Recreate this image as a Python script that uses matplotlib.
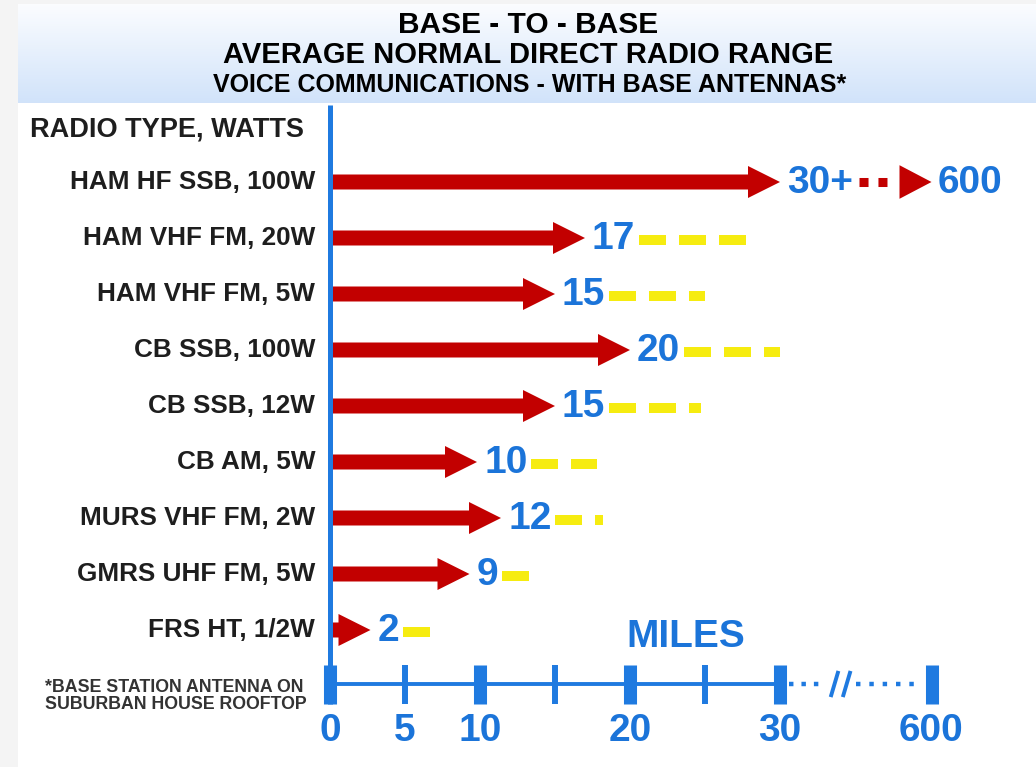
import numpy as np
import matplotlib
matplotlib.use("Agg")
import matplotlib.pyplot as plt
from matplotlib.patches import Rectangle

# Data
radio_types = ["HAM HF SSB, 100W", "HAM VHF FM, 20W", "HAM VHF FM, 5W",
               "CB SSB, 100W", "CB SSB, 12W", "CB AM, 5W",
               "MURS VHF FM, 2W", "GMRS UHF FM, 5W", "FRS HT, 1/2W"]
range_labels = ["30+", "17", "15", "20", "15", "10", "12", "9", "2"]
arrow_ends = [30, 17, 15, 20, 15, 9.8, 11.4, 9.3, 2.7]      # where the red arrows stop (miles)
max_ranges = [None, 28, 25, 30, 24.7, 17.8, 18.2, 13.7, 7]  # end of the yellow dashes (miles)
hf_max = 600

tick_values = [0, 5, 10, 15, 20, 25, 30, 600]
major_ticks = [0, 10, 20, 30, 600]
labelled_ticks = [0, 5, 10, 20, 30, 600]

RED = "#c20000"
BLUE = "#1b74d9"
AXBLUE = "#1f7ae0"
YELLOW = "#f6ec10"
DARK = "#1e1e1e"

W, H = 1036, 767
X0 = 330       # pixel of 0 miles
MPX = 15       # pixels per mile
R0 = 182       # pixel of first row centre
RPX = 56       # pixels per row
BREAK_POS = 40.1  # axis position used for 600 miles


def pos(v):
    return v if v <= 30 else BREAK_POS


plt.rcParams["font.family"] = ["Liberation Sans", "DejaVu Sans"]

fig = plt.figure(figsize=(W / 100, H / 100), dpi=100, facecolor="#f4f4f4")
fig.patches.append(Rectangle((18 / W, 0), 1 - 18 / W, 1 - 4 / H,
                             transform=fig.transFigure, facecolor="white",
                             edgecolor="none", zorder=-5))

# title band with gradient
gax = fig.add_axes([18 / W, 1 - 103 / H, 1 - 18 / W, 99 / H], zorder=1)
grad = np.linspace(0, 1, 100).reshape(-1, 1)
top = np.array([0.985, 0.99, 1.0])
bot = np.array([0.82, 0.89, 0.98])
img = top + grad[..., None] * (bot - top)
gax.imshow(img, aspect="auto", extent=(0, 1, 0, 1), origin="upper")
gax.axis("off")

fig.text(528 / W, 1 - 25 / H, "BASE - TO - BASE", weight="bold",
         fontsize=21.5, ha="center", va="center", color="black")
fig.text(528 / W, 1 - 55 / H, "AVERAGE NORMAL DIRECT RADIO RANGE",
         weight="bold", fontsize=21, ha="center", va="center", color="black")
fig.text(530 / W, 1 - 85 / H, "VOICE COMMUNICATIONS - WITH BASE ANTENNAS*",
         weight="bold", fontsize=18, ha="center", va="center", color="black")

ax = fig.add_axes([0, 0, 1, 1], zorder=2)
ax.patch.set_visible(False)
ax.set_xlim(-X0 / MPX, (W - X0) / MPX)
ax.set_ylim((H - R0) / RPX, -R0 / RPX)
ax.axis("off")

ax.text(-20, -0.93, "RADIO TYPE, WATTS", fontsize=19.5, weight="bold", color=DARK,
        ha="left", va="center")

shaft = 15 / RPX
head_w = 32 / RPX
head_l = 32 / MPX
gap = 7 / MPX

value_texts = []
for i, (name, lab, end) in enumerate(zip(radio_types, range_labels, arrow_ends)):
    ax.text(-1.0, i, name, fontsize=18.8, weight="bold", color=DARK, ha="right", va="center")
    ax.arrow(0.2, i, end - 0.2, 0, width=shaft, head_width=head_w,
             head_length=min(head_l, end - 0.4), length_includes_head=True,
             color=RED, lw=0, zorder=3)
    t = ax.text(end + gap, i + 0.02, lab, fontsize=28, weight="bold", color=BLUE,
                ha="left", va="center", zorder=4)
    value_texts.append(t)

fig.canvas.draw()
renderer = fig.canvas.get_renderer()
inv = ax.transData.inverted()


def right_edge(t):
    bb = t.get_window_extent(renderer)
    return inv.transform((bb.x1, bb.y0))[0]


# yellow dashes: range under good conditions
for i, (t, mx) in enumerate(zip(value_texts, max_ranges)):
    if mx is None:
        continue
    x_start = right_edge(t) + 4 / MPX
    ax.plot([x_start, mx], [i + 0.04, i + 0.04], color=YELLOW, lw=7.2,
            dashes=(2.7, 1.3), solid_capstyle="butt", dash_capstyle="butt", zorder=3)

# HF row: dotted red link to 600
x_start = right_edge(value_texts[0]) + 6 / MPX
ax.plot([x_start, BREAK_POS - head_l - 0.6], [0.0, 0.0], color=RED, lw=6.5,
        dashes=(1, 1.1), dash_capstyle="butt", zorder=3)
ax.arrow(BREAK_POS - head_l, 0, head_l, 0, width=0.001, head_width=head_w * 1.05,
         head_length=head_l, length_includes_head=True, color=RED, lw=0, zorder=3)
ax.text(pos(hf_max) + 6 / MPX, 0.02, str(hf_max), fontsize=28, weight="bold",
        color=BLUE, ha="left", va="center", zorder=4)

# miles axis
y_ax = (684 - R0) / RPX
tick_top = (665 - R0) / RPX
tick_bot = (704 - R0) / RPX
ax.plot([0, 0], [(105 - R0) / RPX, tick_bot], color=AXBLUE, lw=3.6,
        solid_capstyle="butt", zorder=2)
ax.plot([0, 30], [y_ax, y_ax], color=AXBLUE, lw=2.8, zorder=2)
for v in tick_values:
    lw = 9.4 if v in major_ticks else 4.3
    ax.plot([pos(v), pos(v)], [tick_top, tick_bot], color=AXBLUE, lw=lw,
            solid_capstyle="butt", zorder=2)
    if v in labelled_ticks:
        ax.text(pos(v), (731 - R0) / RPX, str(v), fontsize=28, weight="bold",
                color=BLUE, ha="center", va="center")

# broken section between 30 and 600
seg = BREAK_POS - 30
ax.plot([30 + 0.06 * seg, 30 + 0.3 * seg], [y_ax, y_ax], color=AXBLUE, lw=3.2,
        dashes=(1, 1.8), dash_capstyle="butt")
ax.plot([30 + 0.5 * seg, 30 + 0.92 * seg], [y_ax, y_ax], color=AXBLUE, lw=3.2,
        dashes=(1, 2.0), dash_capstyle="butt")
for f in (0.36, 0.44):
    xs = 30 + f * seg
    ax.plot([xs - 0.22, xs + 0.22], [y_ax + 0.2, y_ax - 0.2], color=AXBLUE, lw=2.8)

ax.text(23.7, (637 - R0) / RPX, "MILES", fontsize=28, weight="bold", color=BLUE,
        ha="center", va="center")

ax.text(-19, (688 - R0) / RPX, "*BASE STATION ANTENNA ON", fontsize=12.8, weight="bold",
        color="#333333", ha="left", va="center")
ax.text(-19, (705 - R0) / RPX, "SUBURBAN HOUSE ROOFTOP", fontsize=12.8, weight="bold",
        color="#333333", ha="left", va="center")

fig.savefig("out.png", dpi=100, facecolor=fig.get_facecolor())
